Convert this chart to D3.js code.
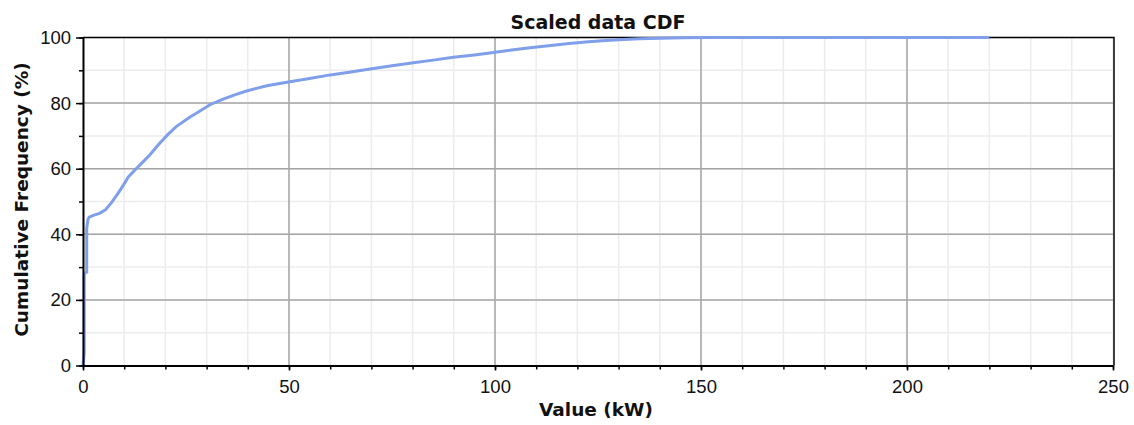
<!DOCTYPE html>
<html>
<head>
<meta charset="utf-8">
<script src="https://cdn.jsdelivr.net/npm/d3@7"></script>
<style>
  html, body { margin: 0; padding: 0; background: #fff; }
  svg { display: block; }
</style>
</head>
<body>
<svg id="chart" width="1134" height="425"></svg>
<script>
var cdfValue = [0, 0.3, 0.3, 0.9, 0.9, 1.2, 1.5, 2.5, 4, 5.5, 7, 8.5, 9.8, 11, 12.6, 14.5, 16.2, 18.3,
    20.5, 22.7, 25.9, 28, 30.8, 34, 37, 39.7, 44.6, 50.2, 55, 60, 65, 69.7, 75, 80.2, 85, 89.9, 95,
    99.6, 104, 108.5, 113, 118, 122, 126, 130, 135, 140, 146, 152, 157, 190, 220];
var cdfPercent = [0, 3.7, 28.1, 28.5, 41.8, 44.5, 45.2, 45.8, 46.4, 47.5, 49.8, 52.5, 55, 57.5, 59.6, 62,
    64.2, 67.3, 70.3, 72.9, 75.7, 77.3, 79.5, 81.2, 82.6, 83.7, 85.3, 86.5, 87.5, 88.6, 89.5, 90.4,
    91.4, 92.3, 93.1, 94, 94.7, 95.4, 96.2, 96.9, 97.5, 98.2, 98.6, 99, 99.3, 99.6, 99.8, 99.9, 100,
    100, 100, 100];

var xMajor = [0, 50, 100, 150, 200, 250];
var yMajor = [0, 20, 40, 60, 80, 100];
var xMinor = d3.range(0, 251, 10);
var yMinor = d3.range(0, 101, 10);

var titleText = "Scaled data CDF";
var xLabel = "Value (kW)";
var yLabel = "Cumulative Frequency (%)";

var plotLeft = 83, plotRight = 1113, plotTop = 37.5, plotBottom = 365.5;
var svg = d3.select("#chart");

var x = d3.scaleLinear().domain([0, 250]).range([plotLeft, plotRight]);
var y = d3.scaleLinear().domain([0, 100]).range([plotBottom, plotTop]);

var grid = svg.append("g");
// minor grid
grid.selectAll(".xminor").data(xMinor).enter().append("line")
    .attr("x1", x).attr("x2", x).attr("y1", plotTop).attr("y2", plotBottom)
    .attr("stroke", "#ececec").attr("stroke-width", 1.5);
grid.selectAll(".yminor").data(yMinor).enter().append("line")
    .attr("y1", y).attr("y2", y).attr("x1", plotLeft).attr("x2", plotRight)
    .attr("stroke", "#ececec").attr("stroke-width", 1.5);
// major grid
grid.selectAll(".xmajor").data(xMajor.slice(1, -1)).enter().append("line")
    .attr("x1", x).attr("x2", x).attr("y1", plotTop).attr("y2", plotBottom)
    .attr("stroke", "#a4a4a4").attr("stroke-width", 1.5);
grid.selectAll(".ymajor").data(yMajor.slice(1, -1)).enter().append("line")
    .attr("y1", y).attr("y2", y).attr("x1", plotLeft).attr("x2", plotRight)
    .attr("stroke", "#a4a4a4").attr("stroke-width", 1.5);

// frame (top / right)
svg.append("path")
    .attr("d", "M" + plotLeft + "," + plotTop + "H" + (plotRight + 1) + "V" + plotBottom)
    .attr("fill", "none").attr("stroke", "#000").attr("stroke-width", 1.5);

// the curve
var line = d3.line()
    .x(function (d) { return x(d[0]); })
    .y(function (d) { return y(d[1]); });
svg.append("path")
    .datum(d3.zip(cdfValue, cdfPercent))
    .attr("d", line)
    .attr("fill", "none")
    .attr("stroke", "#7f9fea")
    .attr("stroke-width", 3);

// axes
var xAxis = svg.append("g").attr("transform", "translate(0," + plotBottom + ")");
xAxis.call(d3.axisBottom(x).tickValues(xMinor).tickSize(4).tickFormat(""));
xAxis.call(function (g) { g.select(".domain").remove(); });
svg.append("g").attr("transform", "translate(0," + plotBottom + ")")
    .call(d3.axisBottom(x).tickValues(xMajor).tickSize(5).tickSizeOuter(0).tickPadding(9));

var yAxis = svg.append("g").attr("transform", "translate(" + plotLeft + ",0)");
yAxis.call(d3.axisLeft(y).tickValues(yMinor).tickSize(4).tickFormat(""));
yAxis.call(function (g) { g.select(".domain").remove(); });
svg.append("g").attr("transform", "translate(" + plotLeft + ",0)")
    .call(d3.axisLeft(y).tickValues(yMajor).tickSize(7).tickSizeOuter(0).tickPadding(5));

svg.selectAll(".tick line").attr("stroke", "#000").attr("stroke-width", 1.5);
svg.selectAll(".domain").attr("stroke", "#000").attr("stroke-width", 2);
svg.selectAll(".tick text")
    .attr("font-family", "'Liberation Sans', Arial, sans-serif")
    .attr("font-size", 18.5)
    .attr("fill", "#111");

// titles
svg.append("text")
    .attr("x", (plotLeft + plotRight) / 2).attr("y", 29)
    .attr("text-anchor", "middle")
    .attr("font-family", "'DejaVu Sans', sans-serif").attr("font-weight", "bold")
    .attr("font-size", 19).attr("fill", "#111")
    .text(titleText);
svg.append("text")
    .attr("x", (plotLeft + plotRight) / 2 - 2).attr("y", 416)
    .attr("text-anchor", "middle")
    .attr("font-family", "'DejaVu Sans', sans-serif").attr("font-weight", "bold")
    .attr("font-size", 18.5).attr("fill", "#111")
    .text(xLabel);
svg.append("text")
    .attr("transform", "translate(28," + ((plotTop + plotBottom) / 2 - 2) + ") rotate(-90)")
    .attr("text-anchor", "middle")
    .attr("font-family", "'DejaVu Sans', sans-serif").attr("font-weight", "bold")
    .attr("font-size", 18.5).attr("fill", "#111")
    .text(yLabel);
</script>
</body>
</html>
